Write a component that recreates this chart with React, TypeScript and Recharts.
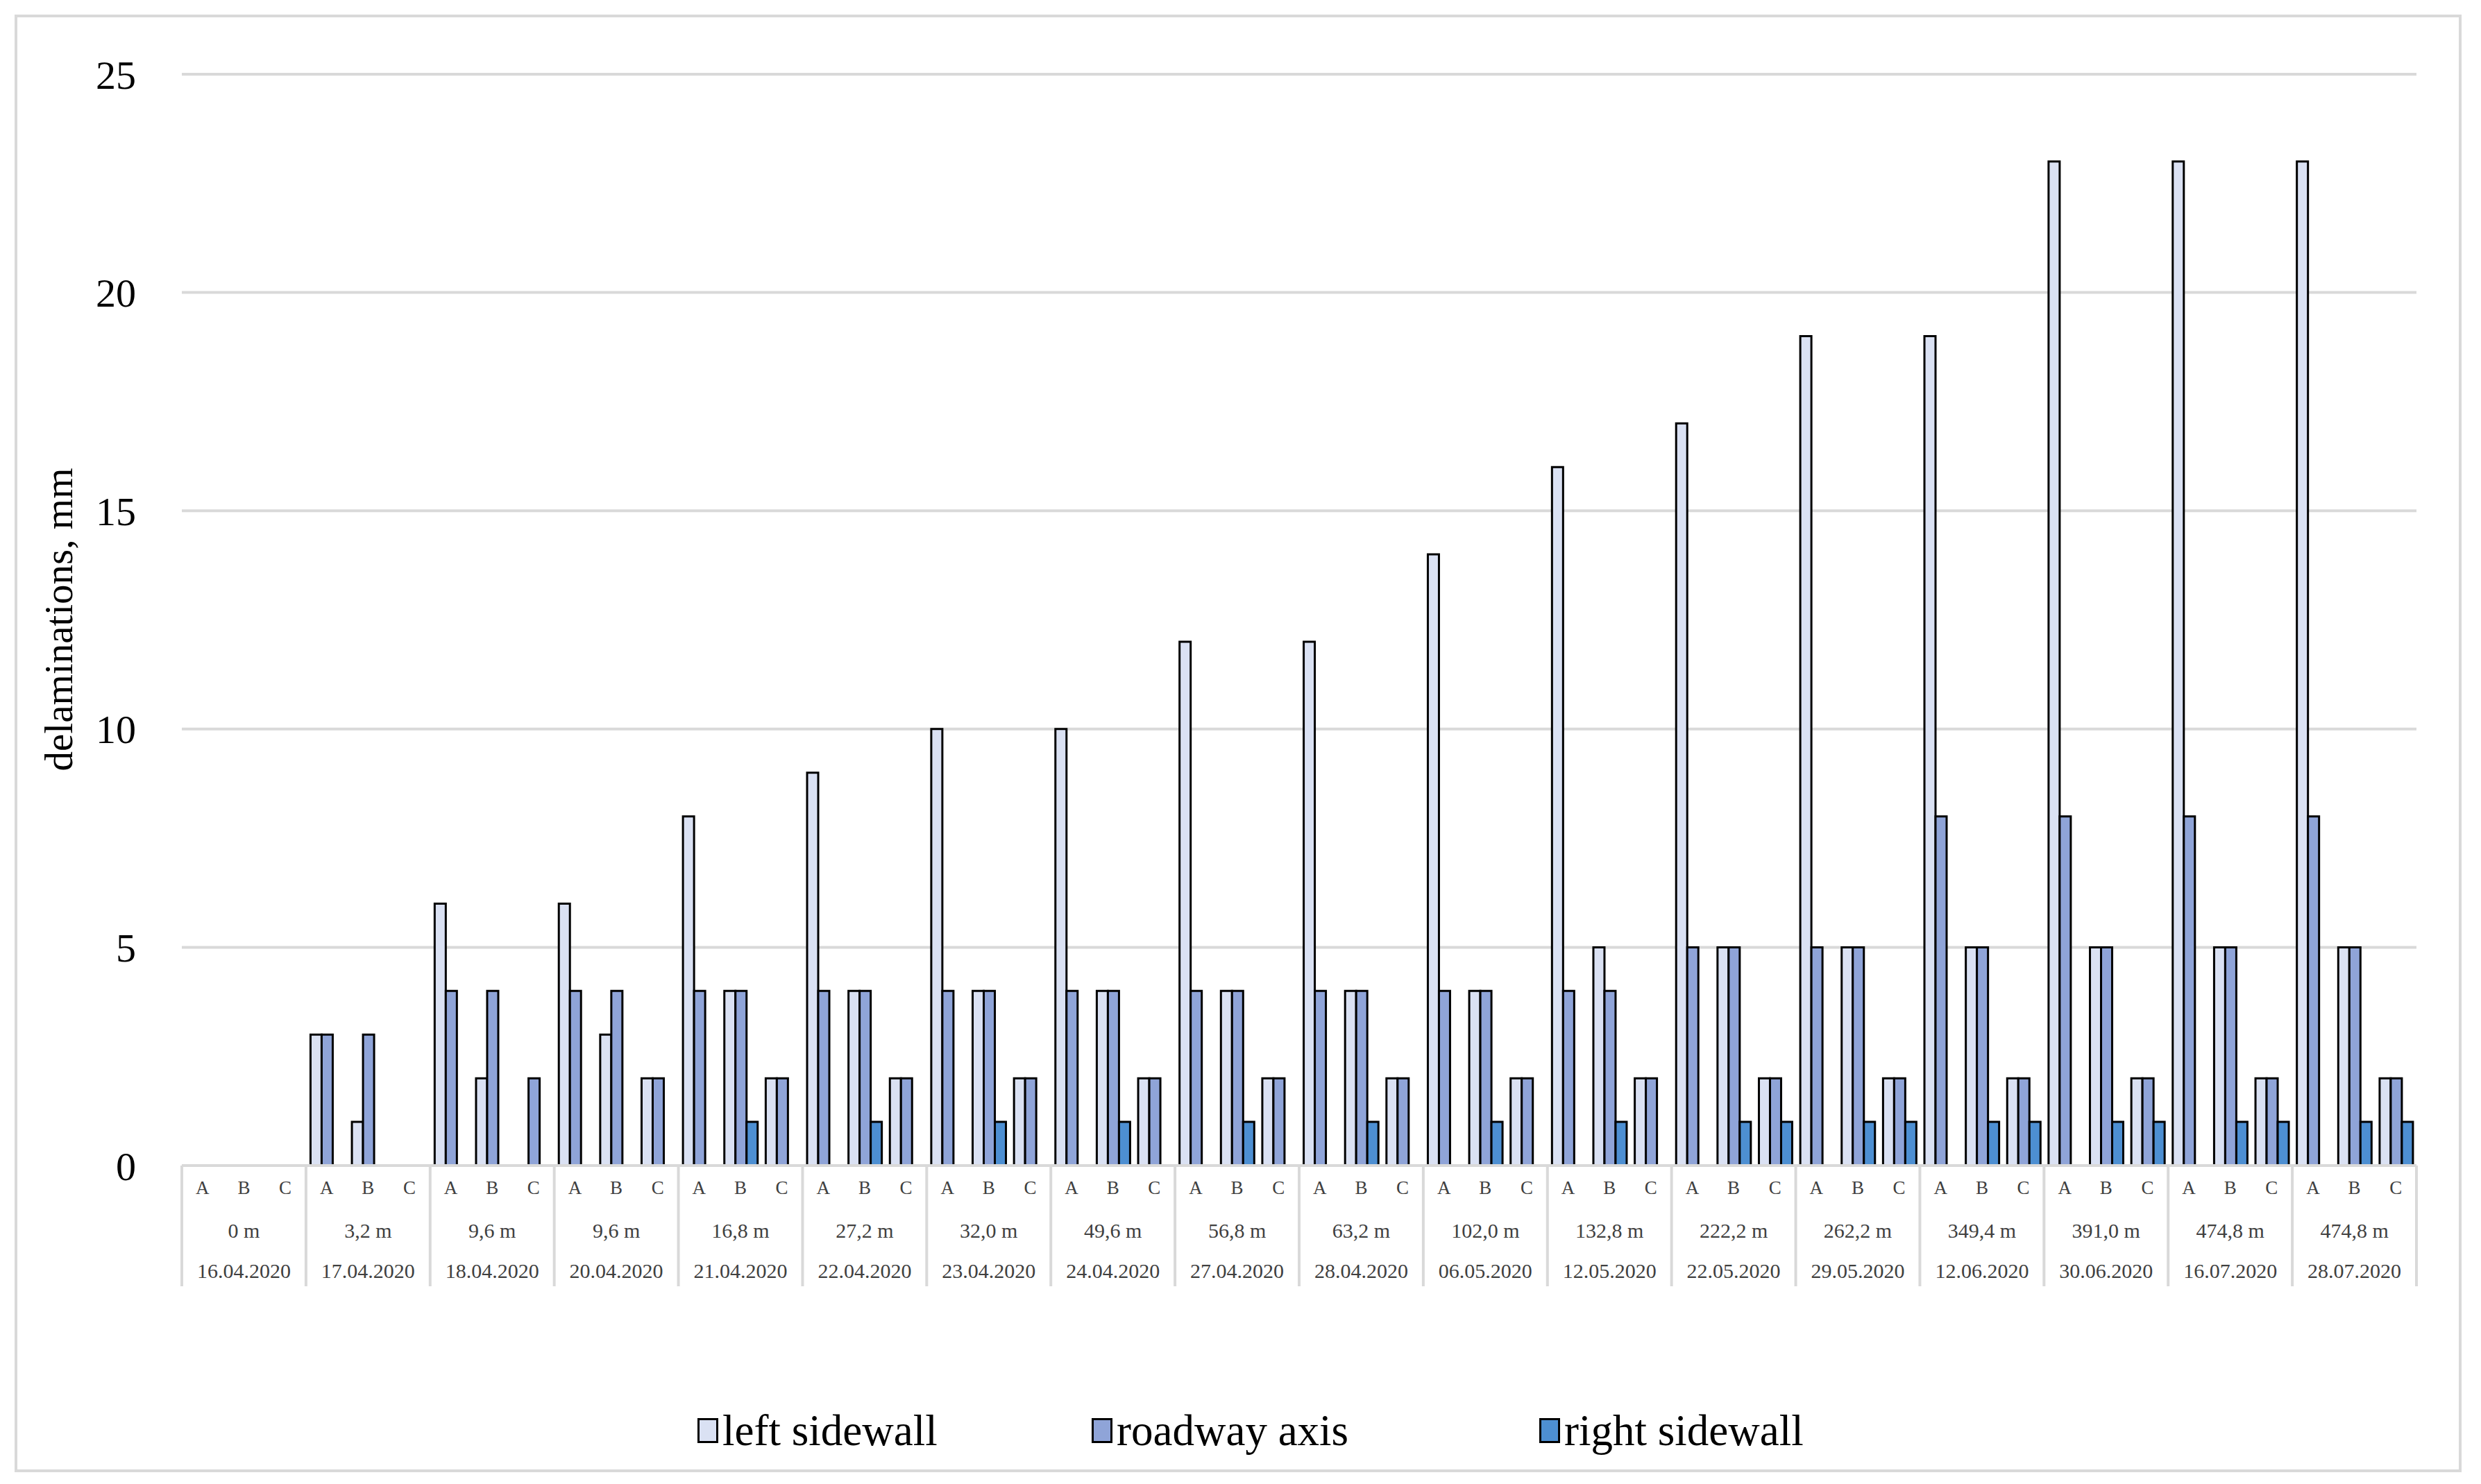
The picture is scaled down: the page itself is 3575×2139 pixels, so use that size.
import { BarChart, Bar, XAxis, YAxis, CartesianGrid, Legend } from 'recharts';

// measurement points (distance from face / date of reading)
const distances = ['0 m', '3,2 m', '9,6 m', '9,6 m', '16,8 m', '27,2 m', '32,0 m', '49,6 m', '56,8 m', '63,2 m',
  '102,0 m', '132,8 m', '222,2 m', '262,2 m', '349,4 m', '391,0 m', '474,8 m', '474,8 m'];
const dates = ['16.04.2020', '17.04.2020', '18.04.2020', '20.04.2020', '21.04.2020', '22.04.2020', '23.04.2020',
  '24.04.2020', '27.04.2020', '28.04.2020', '06.05.2020', '12.05.2020', '22.05.2020', '29.05.2020', '12.06.2020',
  '30.06.2020', '16.07.2020', '28.07.2020'];
const stations = ['A', 'B', 'C'];
const seriesNames = ['left sidewall', 'roadway axis', 'right sidewall'];

// values per date, in order A, B, C
const leftSidewall = [
  0, 0, 0, 3, 1, 0, 6, 2, 0, 6, 3, 2, 8, 4, 2, 9, 4, 2, 10, 4, 2, 10, 4, 2, 12, 4, 2,
  12, 4, 2, 14, 4, 2, 16, 5, 2, 17, 5, 2, 19, 5, 2, 19, 5, 2, 23, 5, 2, 23, 5, 2, 23, 5, 2];
const roadwayAxis = [
  0, 0, 0, 3, 3, 0, 4, 4, 2, 4, 4, 2, 4, 4, 2, 4, 4, 2, 4, 4, 2, 4, 4, 2, 4, 4, 2,
  4, 4, 2, 4, 4, 2, 4, 4, 2, 5, 5, 2, 5, 5, 2, 8, 5, 2, 8, 5, 2, 8, 5, 2, 8, 5, 2];
const rightSidewall = [
  0, 0, 0, 0, 0, 0, 0, 0, 0, 0, 0, 0, 0, 1, 0, 0, 1, 0, 0, 1, 0, 0, 1, 0, 0, 1, 0,
  0, 1, 0, 0, 1, 0, 0, 1, 0, 0, 1, 1, 0, 1, 1, 0, 1, 1, 0, 1, 1, 0, 1, 1, 0, 1, 1];
const yTicks = [0, 5, 10, 15, 20, 25];

const data = dates.flatMap((_, g) =>
  stations.map((s, j) => {
    const i = g * 3 + j;
    return { key: `${g}|${s}`, left: leftSidewall[i], road: roadwayAxis[i], right: rightSidewall[i] };
  }),
);

const W = 3575;
const H = 2139;
const PLOT_L = 262;
const PLOT_R = 3482;
const PLOT_T = 107;
const PLOT_B = 1680;
const BAND = (PLOT_R - PLOT_L) / data.length;
const TABLE_B = 1854;
const SERIF = "'Liberation Serif', 'Times New Roman', serif";
const GRID = '#d9d9d9';
const LEGEND_X = [1005, 1573, 2218];

function XTick(props: any) {
  const { x, payload } = props;
  const [gStr, sub] = String(payload.value).split('|');
  const g = Number(gStr);
  const half = BAND / 2;
  return (
    <g>
      <text x={x} y={1712} textAnchor="middle" dominantBaseline="central" fontFamily={SERIF} fontSize={27} fill="#404040">
        {sub}
      </text>
      {sub === 'B' && (
        <>
          <text x={x} y={1773} textAnchor="middle" dominantBaseline="central" fontFamily={SERIF} fontSize={30} fill="#404040">
            {distances[g]}
          </text>
          <text x={x} y={1831} textAnchor="middle" dominantBaseline="central" fontFamily={SERIF} fontSize={30} fill="#404040">
            {dates[g]}
          </text>
        </>
      )}
      {sub === 'A' && <line x1={x - half} x2={x - half} y1={PLOT_B} y2={TABLE_B} stroke={GRID} strokeWidth={4} />}
      {sub === 'C' && g === dates.length - 1 && (
        <line x1={x + half} x2={x + half} y1={PLOT_B} y2={TABLE_B} stroke={GRID} strokeWidth={4} />
      )}
    </g>
  );
}

function LegendContent(props: any) {
  // keep the series order, the library sorts by name
  const items = [...(props.payload ?? [])].sort(
    (a: any, b: any) => seriesNames.indexOf(a.value) - seriesNames.indexOf(b.value),
  );
  return (
    <div style={{ position: 'relative', width: W, height: 80, fontFamily: SERIF, fontSize: 63, color: '#000' }}>
      {items.map((it: any, i: number) => (
        <div key={it.value} style={{ position: 'absolute', left: LEGEND_X[i], top: 0, height: 80, display: 'flex', alignItems: 'center' }}>
          <span style={{ display: 'inline-block', width: 30, height: 36, boxSizing: 'border-box', background: it.color, border: '3px solid #000', marginRight: 6 }} />
          <span>{it.value}</span>
        </div>
      ))}
    </div>
  );
}

export default function App() {
  return (
    <div style={{ position: 'absolute', left: 0, top: 0, width: W, height: H, background: '#fff' }}>
      <div style={{ position: 'absolute', left: 21, top: 21, width: 3526, height: 2101, border: `4px solid ${GRID}`, boxSizing: 'border-box' }} />
      <div style={{ position: 'absolute', left: 0, top: 0 }}>
        <BarChart
          width={W}
          height={H}
          data={data}
          margin={{ top: PLOT_T, right: W - PLOT_R, left: PLOT_L - 120, bottom: H - PLOT_B - 180 }}
          barGap={0}
          barCategoryGap="11%"
        >
          <CartesianGrid vertical={false} stroke={GRID} strokeWidth={4} />
          <XAxis
            dataKey="key"
            interval={0}
            height={180}
            tickLine={false}
            axisLine={{ stroke: GRID, strokeWidth: 4 }}
            tick={<XTick />}
          />
          <YAxis
            width={120}
            domain={[0, 25]}
            ticks={yTicks}
            axisLine={false}
            tickLine={false}
            tickSize={6}
            tickMargin={60}
            tick={{ fontFamily: SERIF, fontSize: 58, fill: '#000' }}
            label={{
              value: 'delaminations, mm',
              content: () => (
                <text x={84} y={893} transform="rotate(-90 84 893)" textAnchor="middle" dominantBaseline="central" fontFamily={SERIF} fontSize={57} fill="#000">
                  delaminations, mm
                </text>
              ),
            }}
          />
          <Legend
            layout="horizontal"
            verticalAlign="middle"
            align="center"
            wrapperStyle={{ top: 2022, left: 0, width: W, height: 80 }}
            content={<LegendContent />}
          />
          <Bar dataKey="left" name={seriesNames[0]} fill="#dae1f3" stroke="#000" strokeWidth={3} isAnimationActive={false} />
          <Bar dataKey="road" name={seriesNames[1]} fill="#8fa4d8" stroke="#000" strokeWidth={3} isAnimationActive={false} />
          <Bar dataKey="right" name={seriesNames[2]} fill="#4d8fd2" stroke="#000" strokeWidth={3} isAnimationActive={false} />
        </BarChart>
      </div>
    </div>
  );
}
